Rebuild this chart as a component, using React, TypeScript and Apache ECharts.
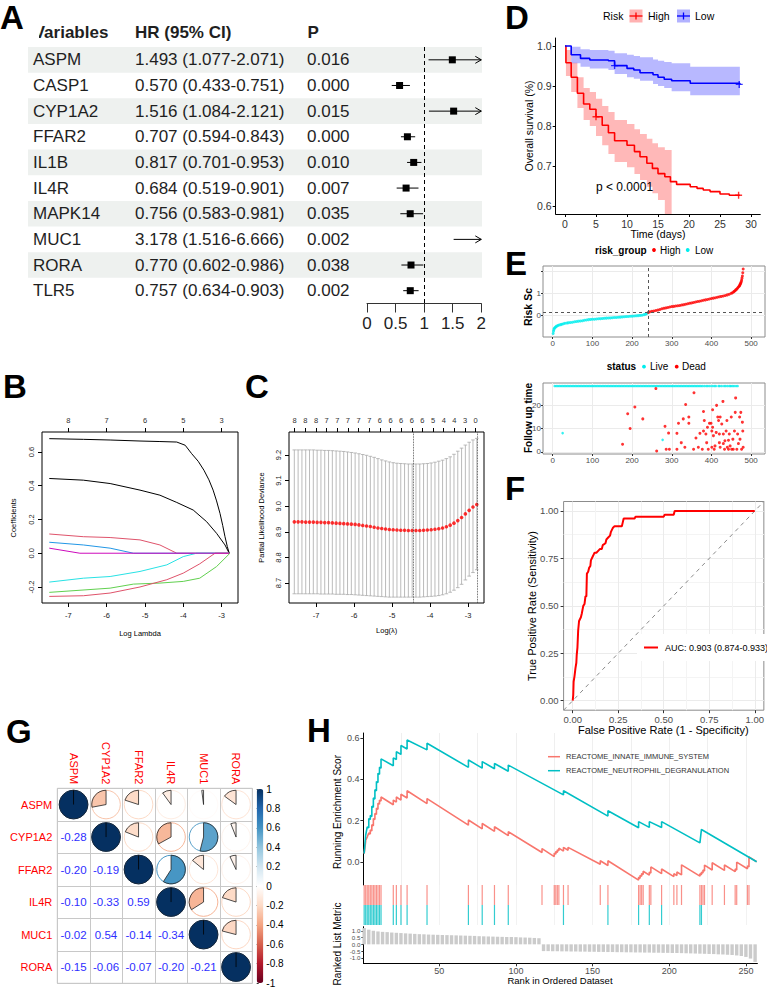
import React, { useEffect, useRef } from "react";
import * as echarts from "echarts";

const FONT = '"Liberation Sans", Arial, Helvetica, sans-serif';

// ---------------- Panel A : forest plot ----------------
const genesA = ["ASPM", "CASP1", "CYP1A2", "FFAR2", "IL1B", "IL4R", "MAPK14", "MUC1", "RORA", "TLR5"];
const hrA = [1.493, 0.57, 1.516, 0.707, 0.817, 0.684, 0.756, 3.178, 0.77, 0.757];
const loA = [1.077, 0.433, 1.084, 0.594, 0.701, 0.519, 0.583, 1.516, 0.602, 0.634];
const hiA = [2.071, 0.751, 2.121, 0.843, 0.953, 0.901, 0.981, 6.666, 0.986, 0.903];
const pA = ["0.016", "0.000", "0.015", "0.000", "0.010", "0.007", "0.035", "0.002", "0.038", "0.002"];
const headersA = ["Variables", "HR (95% CI)", "P"];

// ---------------- Panel B : LASSO coefficient paths ----------------
const ticksB = [-7, -6, -5, -4, -3];
const topCountsB = ["8", "7", "6", "5", "3"];
const pathsB = [
  [[-7.5, 0.679], [-6.61, 0.675], [-5.91, 0.671], [-5.13, 0.665], [-4.61, 0.662], [-4.17, 0.659], [-3.95, 0.64], [-3.78, 0.59], [-3.61, 0.545], [-3.46, 0.492], [-3.33, 0.435], [-3.22, 0.374], [-3.13, 0.31], [-3.04, 0.236], [-2.97, 0.165], [-2.91, 0.098], [-2.85, 0.04], [-2.8, 0]],
  [[-7.5, 0.443], [-6.61, 0.433], [-5.91, 0.413], [-5.13, 0.374], [-4.61, 0.344], [-4.17, 0.301], [-3.74, 0.256], [-3.39, 0.187], [-3.13, 0.118], [-2.91, 0.049], [-2.8, 0]],
  [[-7.5, 0.114], [-6.61, 0.098], [-5.91, 0.093], [-5.13, 0.079], [-4.61, 0.049], [-4.17, 0], [-2.8, 0]],
  [[-7.5, 0.065], [-6.61, 0.049], [-5.91, 0.03], [-5.3, 0], [-2.8, 0]],
  [[-7.5, -0.171], [-6.61, -0.148], [-5.91, -0.138], [-5.13, -0.108], [-4.43, -0.069], [-4.0, -0.02], [-3.65, 0], [-2.8, 0]],
  [[-7.5, -0.232], [-5.91, -0.207], [-5.3, -0.183], [-4.61, -0.177], [-4.0, -0.167], [-3.57, -0.148], [-3.13, -0.079], [-2.78, 0]],
  [[-7.5, -0.256], [-6.61, -0.252], [-5.91, -0.236], [-5.13, -0.2], [-4.43, -0.157], [-4.0, -0.118], [-3.57, -0.063], [-3.17, 0], [-2.8, 0]],
  [[-7.5, 0.03], [-6.7, 0], [-2.8, 0]],
];
const pathColorsB = ["#000000", "#000000", "#DF536B", "#2297E6", "#28E2E5", "#61D04F", "#DF536B", "#CD0BBC"];

// ---------------- Panel C : cross-validation ----------------
const lamC = [-7.57, -7.47, -7.37, -7.27, -7.17, -7.07, -6.97, -6.87, -6.77, -6.67, -6.57, -6.47, -6.37, -6.27, -6.17, -6.07, -5.97, -5.87, -5.77, -5.67, -5.57, -5.47, -5.37, -5.27, -5.17, -5.07, -4.97, -4.87, -4.77, -4.67, -4.57, -4.47, -4.37, -4.27, -4.17, -4.07, -3.97, -3.87, -3.77, -3.67, -3.57, -3.47, -3.37, -3.27, -3.17, -3.07, -2.97, -2.87, -2.77];
const cvmC = [8.939, 8.939, 8.939, 8.938, 8.938, 8.938, 8.937, 8.937, 8.936, 8.936, 8.935, 8.934, 8.933, 8.932, 8.931, 8.93, 8.929, 8.927, 8.925, 8.923, 8.921, 8.918, 8.915, 8.913, 8.911, 8.909, 8.908, 8.907, 8.906, 8.906, 8.905, 8.905, 8.905, 8.905, 8.906, 8.907, 8.908, 8.91, 8.912, 8.915, 8.92, 8.926, 8.934, 8.944, 8.956, 8.97, 8.984, 8.997, 9.007];
const cvUpC = [9.22, 9.22, 9.22, 9.22, 9.22, 9.22, 9.219, 9.219, 9.218, 9.218, 9.217, 9.216, 9.215, 9.214, 9.212, 9.21, 9.208, 9.205, 9.202, 9.199, 9.195, 9.191, 9.186, 9.181, 9.177, 9.173, 9.17, 9.168, 9.167, 9.166, 9.165, 9.165, 9.165, 9.165, 9.166, 9.167, 9.169, 9.172, 9.176, 9.18, 9.186, 9.193, 9.203, 9.215, 9.227, 9.239, 9.25, 9.259, 9.265];
const cvLoC = [8.658, 8.658, 8.658, 8.658, 8.658, 8.658, 8.658, 8.657, 8.657, 8.657, 8.657, 8.656, 8.656, 8.656, 8.655, 8.655, 8.654, 8.653, 8.652, 8.651, 8.65, 8.649, 8.648, 8.647, 8.646, 8.645, 8.645, 8.645, 8.645, 8.645, 8.645, 8.645, 8.645, 8.645, 8.646, 8.647, 8.648, 8.649, 8.651, 8.654, 8.658, 8.664, 8.672, 8.682, 8.695, 8.712, 8.727, 8.741, 8.752];
const topLambdaC = [-7.56, -7.28, -7.0, -6.72, -6.44, -6.16, -5.88, -5.6, -5.32, -5.04, -4.76, -4.48, -4.2, -3.92, -3.64, -3.36, -3.08, -2.8];
const topCountsC = ["8", "8", "8", "7", "7", "7", "7", "7", "6", "6", "6", "6", "6", "5", "4", "4", "3", "0"];
const lambdaMinC = -4.44;
const lambda1seC = -2.77;

// ---------------- Panel D : Kaplan-Meier ----------------
const highT = [0, 0.15, 1.0, 2.0, 3.0, 4.0, 5.0, 6.0, 7.0, 8.0, 10.0, 11.2, 12.1, 13.2, 14.1, 15.0, 16.1, 17.0, 18.0, 20.2, 21.3, 22.3, 23.4, 25.0, 26.5, 28.2];
const highS = [1.0, 0.958, 0.922, 0.882, 0.855, 0.842, 0.823, 0.802, 0.783, 0.763, 0.752, 0.736, 0.723, 0.707, 0.694, 0.681, 0.673, 0.661, 0.654, 0.648, 0.644, 0.64, 0.636, 0.63, 0.627, 0.627];
const highBandT = [0, 0.15, 1.0, 2.0, 3.0, 4.0, 5.0, 6.0, 7.0, 8.0, 10.0, 11.2, 12.1, 13.2, 14.1, 15.0, 16.1, 17.2];
const highLo = [1.0, 0.925, 0.885, 0.845, 0.815, 0.8, 0.775, 0.752, 0.73, 0.71, 0.697, 0.68, 0.665, 0.648, 0.632, 0.615, 0.58, 0.58];
const highHi = [1.0, 0.99, 0.958, 0.922, 0.895, 0.885, 0.868, 0.85, 0.835, 0.815, 0.805, 0.792, 0.78, 0.768, 0.757, 0.747, 0.74, 0.74];
const lowT = [0, 1.0, 2.5, 4.0, 7.0, 8.0, 10.0, 11.1, 12.1, 14.2, 15.0, 16.0, 17.2, 20.2, 28.2];
const lowS = [1.0, 0.978, 0.969, 0.965, 0.963, 0.951, 0.944, 0.94, 0.933, 0.928, 0.922, 0.917, 0.913, 0.907, 0.904];
const lowLo = [1.0, 0.957, 0.948, 0.944, 0.94, 0.93, 0.922, 0.918, 0.913, 0.905, 0.9, 0.895, 0.887, 0.877, 0.868];
const lowHi = [1.0, 0.998, 0.992, 0.99, 0.988, 0.982, 0.978, 0.975, 0.972, 0.966, 0.963, 0.96, 0.957, 0.948, 0.944];
const highCensor = [[5.0, 0.823], [28.0, 0.627]];
const lowCensor = [[8.0, 0.951], [28.1, 0.904]];
const daysTicks = [0, 5, 10, 15, 20, 25, 30];
const survTicks = [0.6, 0.7, 0.8, 0.9, 1.0];

// ---------------- Panel E : risk score & follow up ----------------
const lowRiskE = [[1, -0.85], [2, -0.74], [3, -0.66], [4, -0.61], [6, -0.57], [8, -0.54], [10, -0.51], [13, -0.48], [16, -0.46], [20, -0.44], [23, -0.42], [27, -0.4], [31, -0.38], [36, -0.37], [40, -0.35], [45, -0.34], [50, -0.33], [55, -0.31], [60, -0.3], [65, -0.28], [70, -0.27], [75, -0.26], [80, -0.24], [85, -0.23], [90, -0.21], [95, -0.2], [100, -0.195], [105, -0.19], [110, -0.18], [115, -0.17], [120, -0.165], [125, -0.16], [130, -0.15], [135, -0.14], [140, -0.135], [145, -0.13], [150, -0.12], [155, -0.115], [160, -0.11], [165, -0.1], [170, -0.095], [175, -0.085], [180, -0.08], [185, -0.07], [190, -0.065], [195, -0.055], [200, -0.05], [205, -0.04], [210, -0.035], [215, -0.025], [220, -0.015], [225, -0.005], [230, 0.02], [234, 0.04], [237, 0.07], [240, 0.11]];
const highRiskE = [[241, 0.12], [245, 0.15], [250, 0.17], [255, 0.19], [260, 0.21], [265, 0.23], [270, 0.26], [275, 0.29], [280, 0.31], [285, 0.33], [290, 0.35], [295, 0.37], [300, 0.39], [305, 0.4], [310, 0.42], [315, 0.43], [320, 0.44], [325, 0.46], [330, 0.48], [335, 0.5], [340, 0.52], [345, 0.54], [350, 0.56], [355, 0.58], [360, 0.6], [365, 0.62], [370, 0.64], [375, 0.66], [380, 0.68], [385, 0.7], [390, 0.72], [395, 0.74], [400, 0.76], [405, 0.78], [410, 0.8], [415, 0.82], [420, 0.84], [425, 0.86], [430, 0.88], [435, 0.9], [440, 0.93], [445, 0.96], [450, 1.0], [453, 1.03], [456, 1.07], [458, 1.1], [460, 1.13], [462, 1.17], [464, 1.2], [466, 1.25], [468, 1.29], [470, 1.33], [471, 1.36], [472, 1.4], [473, 1.44], [474, 1.48], [475, 1.53], [476, 1.6], [477, 1.7], [478, 1.8], [479, 1.95], [480, 2.12]];
const cutoffE = 0.12;
const cutRankE = 240;
const liveRanksE = [5, 9, 13, 17, 21, 25, 29, 33, 37, 41, 45, 49, 53, 57, 61, 65, 69, 73, 77, 81, 85, 89, 93, 97, 101, 105, 109, 113, 117, 121, 125, 129, 133, 137, 141, 145, 149, 153, 157, 161, 165, 169, 173, 177, 181, 185, 189, 193, 197, 201, 205, 209, 213, 217, 221, 225, 229, 233, 237, 241, 245, 249, 253, 257, 261, 265, 269, 273, 277, 281, 285, 289, 293, 297, 301, 305, 309, 313, 317, 321, 325, 329, 333, 337, 341, 345, 349, 353, 357, 361, 365, 369, 373, 377, 382, 387, 391, 396, 402, 407, 411, 418, 421, 426, 432, 436, 441, 446, 449, 453, 457, 462, 466];
const liveTimeE = 28.3;
const liveOtherE = [[25, 8.1], [277, 5.2]];
const deadE = [[176, 3.3], [189, 16.4], [195, 10.1], [207, 19.3], [227, 14.2], [260, 27.2], [262, 0.4], [283, 11], [286, 1.2], [292, 8.1], [294, 1.2], [313, 1.2], [313, 8], [317, 12.3], [324, 4], [329, 14.2], [333, 2], [335, 20.4], [343, 15], [343, 12.3], [355, 1.2], [356, 25.4], [361, 6], [367, 2], [371, 8], [377, 1.2], [380, 17.4], [380, 9], [382, 13.5], [386, 7.7], [388, 4], [390, 10.6], [392, 1.2], [395, 12.3], [399, 12.3], [401, 9], [401, 2], [403, 18.1], [403, 10.6], [405, 7], [407, 1.2], [409, 2.6], [412, 8.4], [413, 20], [416, 15], [418, 13.5], [420, 7.7], [420, 4], [422, 2], [422, 15], [426, 12], [429, 21.7], [430, 3.6], [430, 7.7], [433, 1.2], [434, 4.8], [437, 9], [439, 13.5], [440, 2], [443, 1.2], [443, 5], [445, 7.7], [447, 2.6], [450, 15], [451, 1.2], [454, 5.5], [455, 1.2], [458, 9], [460, 17], [461, 23.2], [464, 1.2], [466, 7.7], [468, 3.6], [471, 15], [472, 5.5], [474, 17], [476, 1.2], [478, 12.8], [479, 9], [480, 2]];
const rankTicksE = [0, 100, 200, 300, 400, 500];

// ---------------- Panel F : ROC ----------------
const rocF = [[0, 0], [0.003, 0.03], [0.005, 0.1], [0.01, 0.13], [0.015, 0.17], [0.02, 0.2], [0.022, 0.24], [0.026, 0.28], [0.03, 0.37], [0.035, 0.42], [0.045, 0.44], [0.05, 0.46], [0.058, 0.5], [0.065, 0.51], [0.07, 0.55], [0.075, 0.55], [0.078, 0.67], [0.085, 0.68], [0.09, 0.7], [0.097, 0.71], [0.1, 0.74], [0.11, 0.76], [0.115, 0.77], [0.12, 0.78], [0.13, 0.78], [0.14, 0.79], [0.15, 0.8], [0.16, 0.8], [0.165, 0.82], [0.18, 0.83], [0.185, 0.85], [0.195, 0.86], [0.205, 0.87], [0.21, 0.89], [0.22, 0.91], [0.23, 0.92], [0.27, 0.92], [0.275, 0.94], [0.28, 0.96], [0.34, 0.96], [0.345, 0.97], [0.5, 0.97], [0.505, 0.98], [0.555, 0.98], [0.56, 1.0], [1.0, 1.0]];
const diagF = [[-0.05, -0.05], [1.05, 1.05]];
const rateTicksF = [0, 0.25, 0.5, 0.75, 1];
const rateMinorF = [0.125, 0.375, 0.625, 0.875];
const aucLabelF = "AUC: 0.903 (0.874-0.933)";

// ---------------- Panel G : correlation ----------------
const genesG = ["ASPM", "CYP1A2", "FFAR2", "IL4R", "MUC1", "RORA"];
const corrG = [
  [1, -0.28, -0.2, -0.1, -0.02, -0.15],
  [-0.28, 1, -0.19, -0.33, 0.54, -0.06],
  [-0.2, -0.19, 1, 0.59, -0.14, -0.07],
  [-0.1, -0.33, 0.59, 1, -0.34, -0.2],
  [-0.02, 0.54, -0.14, -0.34, 1, -0.21],
  [-0.15, -0.06, -0.07, -0.2, -0.21, 1],
];
const rdbu = ["#67001F", "#B2182B", "#D6604D", "#F4A582", "#FDDBC7", "#FFFFFF", "#D1E5F0", "#92C5DE", "#4393C3", "#2166AC", "#053061"];

// ---------------- Panel H : GSEA ----------------
const redNameH = "REACTOME_INNATE_IMMUNE_SYSTEM";
const cyanNameH = "REACTOME_NEUTROPHIL_DEGRANULATION";
const cyanES = [[1, 0.04], [2, 0.13], [3, 0.17], [4, 0.165], [4, 0.21], [5, 0.205], [5, 0.225], [6, 0.22], [6, 0.27], [7, 0.265], [7, 0.31], [8, 0.305], [8, 0.35], [9, 0.345], [9, 0.39], [10, 0.385], [10, 0.43], [11, 0.425], [11, 0.46], [12, 0.455], [12, 0.5], [20, 0.467], [20, 0.505], [22, 0.497], [22, 0.535], [25, 0.522], [25, 0.565], [29, 0.548], [29, 0.592], [42, 0.544], [42, 0.576], [69, 0.459], [69, 0.495], [78, 0.455], [78, 0.487], [86, 0.452], [86, 0.478], [95, 0.44], [95, 0.47], [131, 0.325], [131, 0.345], [160, 0.222], [160, 0.248], [180, 0.165], [180, 0.195], [187, 0.167], [187, 0.195], [195, 0.167], [195, 0.195], [220, 0.092], [221, 0.157], [257, 0.0]];
const redES = [[1, 0.04], [2, 0.1], [2, 0.105], [3, 0.12], [4, 0.14], [5, 0.135], [5, 0.155], [6, 0.15], [6, 0.18], [7, 0.175], [7, 0.21], [8, 0.205], [8, 0.235], [9, 0.23], [9, 0.26], [10, 0.255], [10, 0.285], [11, 0.28], [11, 0.3], [12, 0.295], [12, 0.315], [20, 0.277], [20, 0.3], [22, 0.29], [22, 0.315], [25, 0.3], [25, 0.328], [29, 0.31], [29, 0.345], [42, 0.283], [42, 0.307], [69, 0.178], [69, 0.203], [78, 0.16], [78, 0.186], [86, 0.148], [86, 0.17], [95, 0.127], [95, 0.146], [117, 0.045], [117, 0.064], [125, 0.025], [125, 0.042], [126, 0.037], [126, 0.05], [127, 0.045], [127, 0.058], [128, 0.053], [128, 0.066], [131, 0.052], [131, 0.07], [134, 0.056], [134, 0.07], [155, -0.012], [155, 0.005], [160, -0.018], [160, 0.005], [180, -0.089], [180, -0.075], [181, -0.08], [181, -0.066], [182, -0.071], [182, -0.057], [183, -0.062], [183, -0.046], [187, -0.065], [187, -0.05], [188, -0.055], [188, -0.025], [195, -0.058], [195, -0.035], [203, -0.072], [203, -0.058], [205, -0.067], [205, -0.05], [208, -0.064], [208, -0.015], [220, -0.07], [220, -0.058], [221, -0.063], [221, -0.05], [222, -0.055], [222, -0.04], [223, -0.045], [223, -0.016], [228, -0.04], [228, -0.005], [236, -0.042], [236, -0.016], [243, -0.048], [243, -0.035], [244, -0.04], [244, -0.002], [251, -0.034], [251, -0.02], [252, -0.025], [252, 0.024], [257, 0.0]];
const redHits = [1, 2, 3, 4, 5, 6, 7, 8, 9, 10, 11, 12, 20, 22, 25, 29, 42, 69, 78, 86, 95, 117, 125, 126, 127, 128, 131, 134, 155, 160, 180, 181, 182, 183, 187, 188, 195, 203, 205, 208, 220, 221, 222, 223, 228, 236, 243, 244, 251, 252];
const cyanHits = [1, 2, 3, 4, 5, 6, 7, 8, 9, 10, 11, 12, 20, 22, 25, 29, 42, 69, 78, 86, 95, 131, 160, 180, 187, 195, 220, 221];
const metricH = [[1, 1.2], [4, 1.08], [7, 1.0], [10, 0.95], [13, 0.92], [16, 0.9], [19, 0.87], [22, 0.85], [25, 0.83], [28, 0.81], [31, 0.79], [34, 0.77], [37, 0.75], [40, 0.74], [43, 0.72], [46, 0.71], [49, 0.7], [52, 0.69], [55, 0.68], [58, 0.67], [61, 0.66], [64, 0.65], [67, 0.64], [70, 0.63], [73, 0.62], [76, 0.6], [79, 0.59], [82, 0.58], [85, 0.57], [88, 0.56], [91, 0.55], [94, 0.54], [97, 0.535], [100, 0.53], [103, 0.51], [106, 0.5], [109, 0.49], [112, 0.47], [115, 0.45], [118, -0.5], [121, -0.5], [124, -0.51], [127, -0.51], [130, -0.52], [133, -0.52], [136, -0.53], [139, -0.53], [142, -0.54], [145, -0.54], [148, -0.55], [151, -0.55], [154, -0.56], [157, -0.56], [160, -0.57], [163, -0.57], [166, -0.58], [169, -0.58], [172, -0.59], [175, -0.59], [178, -0.6], [181, -0.6], [184, -0.61], [187, -0.61], [190, -0.62], [193, -0.62], [196, -0.63], [199, -0.63], [202, -0.64], [205, -0.64], [208, -0.65], [211, -0.66], [214, -0.67], [217, -0.68], [220, -0.69], [223, -0.7], [226, -0.71], [229, -0.72], [232, -0.74], [235, -0.75], [238, -0.77], [241, -0.79], [244, -0.82], [247, -0.86], [250, -0.93], [253, -1.05], [256, -1.3]];
const esTicksH = [0, 0.2, 0.4, 0.6];
const metricTicksH = [-1, -0.5, 0, 0.5, 1];
const rankTicksH = [50, 100, 150, 200, 250];
const rankGridH = [25, 50, 75, 100, 125, 150, 175, 200, 225, 250];

// ---------------- helpers ----------------
function txt(text: string, x: number, y: number, size: number, o: any = {}) {
  const al = o.align || "left";
  return {
    type: "text", x, y, rotation: o.rot || 0, z: o.z ?? 20, silent: true,
    style: {
      text, x: 0, y: 0, font: `${o.bold ? "bold " : ""}${size}px ${FONT}`, fill: o.color || "#000",
      textAlign: al, textVerticalAlign: "middle", align: al, verticalAlign: "middle",
    },
  };
}
function tEl(text: string, x: number, y: number, size: number, o: any = {}) {
  const al = o.align || "left";
  return {
    type: "text",
    style: {
      text, x, y, font: `${o.bold ? "bold " : ""}${size}px ${FONT}`, fill: o.color || "#1f1f1f",
      textAlign: al, textVerticalAlign: "middle", align: al, verticalAlign: "middle",
    },
  };
}
function gLine(x1: number, y1: number, x2: number, y2: number, stroke: string, w = 1, z = 20) {
  return { type: "line", z, silent: true, shape: { x1, y1, x2, y2 }, style: { stroke, lineWidth: w } };
}
function gRect(x: number, y: number, width: number, height: number, fill: string, z = 20) {
  return { type: "rect", z, silent: true, shape: { x, y, width, height }, style: { fill } };
}
function gDot(cx: number, cy: number, fill: string) {
  return { type: "circle", z: 20, silent: true, shape: { cx, cy, r: 1.9 }, style: { fill } };
}
function vAxis(o: any) {
  return {
    type: "value", gridIndex: o.grid, min: o.min, max: o.max, position: o.pos,
    axisLine: { show: !!o.line, onZero: false, lineStyle: { color: o.lineColor || "#000", width: 1 } },
    axisTick: { show: (o.tickLen ?? 3) > 0, length: o.tickLen ?? 3, customValues: o.ticks, lineStyle: { color: o.tickColor || "#333" } },
    axisLabel: {
      show: o.showLabel !== false, customValues: o.labels || o.ticks, formatter: o.fmt,
      fontSize: o.fs || 9, color: o.color || "#4D4D4D", margin: o.margin ?? 4, fontFamily: FONT, rotate: o.rotate || 0,
      lineHeight: o.lh,
    },
    splitLine: { show: !!o.split, lineStyle: { color: o.splitColor || "#EBEBEB", width: 1 } },
    minorTick: { show: false }, minorSplitLine: { show: false },
  };
}
function stepPts(t: number[], v: number[]) {
  const out: number[][] = [];
  for (let i = 0; i < t.length; i++) {
    if (i > 0) out.push([t[i], v[i - 1]]);
    out.push([t[i], v[i]]);
  }
  return out;
}
const plusSymbol = "path://M4,0H6V4H10V6H6V10H4V6H0V4H4Z";

function buildOption() {
  const grid = [
    { left: 367, top: 47, width: 114.3, height: 256.5 }, // 0 A
    { left: 42, top: 432, width: 196, height: 171, show: true, borderColor: "#000", borderWidth: 1 }, // 1 B
    { left: 289, top: 432, width: 195, height: 171, show: true, borderColor: "#000", borderWidth: 1 }, // 2 C
    { left: 555.7, top: 38, width: 204.6, height: 176 }, // 3 D
    { left: 543, top: 266, width: 222, height: 71, show: true, borderColor: "#8C8C8C", borderWidth: 1 }, // 4 E1
    { left: 543, top: 383, width: 222, height: 71, show: true, borderColor: "#8C8C8C", borderWidth: 1 }, // 5 E2
    { left: 563.6, top: 501.5, width: 200.5, height: 208.7, show: true, borderColor: "#8C8C8C", borderWidth: 1 }, // 6 F
    { left: 57.3, top: 788.3, width: 195, height: 195, show: true, borderColor: "#C8C8C8", borderWidth: 1 }, // 7 G
    { left: 256.7, top: 789, width: 6.6, height: 194 }, // 8 G colorbar
    { left: 363.4, top: 733, width: 394, height: 152 }, // 9 H ES
    { left: 363.4, top: 885, width: 394, height: 40 }, // 10 H rug
    { left: 363.4, top: 926.7, width: 394, height: 36.6 }, // 11 H metric
  ];

  const xAxis: any[] = [
    { type: "value", gridIndex: 0, min: 0, max: 2, interval: 0.5, position: "bottom",
      axisLine: { show: true, onZero: false, lineStyle: { color: "#333" } },
      axisTick: { show: true, length: 9, lineStyle: { color: "#333" } },
      axisLabel: { fontSize: 17, color: "#222", margin: 11, fontFamily: FONT }, splitLine: { show: false } }, // 0
    vAxis({ grid: 1, min: -7.69, max: -2.57, ticks: ticksB, pos: "bottom", fs: 7.5, color: "#222", margin: 8.5, tickLen: 4, tickColor: "#000" }), // 1
    vAxis({ grid: 1, min: -7.69, max: -2.57, ticks: ticksB, pos: "top", fs: 7.5, color: "#333", margin: 7.5, tickLen: 4, tickColor: "#000",
      fmt: (v: number) => topCountsB[ticksB.findIndex((t) => Math.abs(t - v) < 1e-6)] ?? "" }), // 2
    vAxis({ grid: 2, min: -7.71, max: -2.58, ticks: ticksB, pos: "bottom", fs: 7.5, color: "#222", margin: 8.5, tickLen: 4, tickColor: "#000" }), // 3
    vAxis({ grid: 2, min: -7.71, max: -2.58, ticks: topLambdaC, pos: "top", fs: 7.5, color: "#333", margin: 7.5, tickLen: 4, tickColor: "#000",
      fmt: (v: number) => topCountsC[topLambdaC.findIndex((t) => Math.abs(t - v) < 1e-6)] ?? "" }), // 4
    vAxis({ grid: 3, min: -1.5, max: 31.5, ticks: daysTicks, pos: "bottom", fs: 10.5, color: "#333", margin: 4, tickLen: 3, line: true, tickColor: "#000" }), // 5
    vAxis({ grid: 4, min: -24.5, max: 535, ticks: rankTicksE, pos: "bottom", fs: 8, margin: 2, tickLen: 2, split: true }), // 6
    vAxis({ grid: 5, min: -24.5, max: 535, ticks: rankTicksE, pos: "bottom", fs: 8, margin: 2, tickLen: 2, split: true }), // 7
    vAxis({ grid: 6, min: -0.05, max: 1.05, ticks: rateTicksF, pos: "bottom", fs: 9.5, margin: 4, tickLen: 3, split: true, fmt: (v: number) => v.toFixed(2) }), // 8
    vAxis({ grid: 6, min: -0.05, max: 1.05, ticks: rateMinorF, pos: "top", showLabel: false, tickLen: 0, split: true, splitColor: "#F4F4F4" }), // 9
    { type: "category", gridIndex: 7, data: genesG, position: "top", axisLine: { show: false }, axisTick: { show: false },
      axisLabel: { rotate: 90, color: "#FF0000", fontSize: 11, margin: 4, fontFamily: FONT, interval: 0 },
      splitLine: { show: true, interval: 0, lineStyle: { color: "#C8C8C8" } } }, // 10
    { type: "value", gridIndex: 8, min: 0, max: 1, show: false }, // 11
    vAxis({ grid: 9, min: 0.5, max: 257.5, ticks: rankGridH, showLabel: false, tickLen: 0, split: true, splitColor: "#EFEFEF" }), // 12
    vAxis({ grid: 10, min: 0.5, max: 257.5, ticks: rankGridH, showLabel: false, tickLen: 0, split: true, splitColor: "#F2F2F2" }), // 13
    vAxis({ grid: 11, min: 0.5, max: 257.5, ticks: rankTicksH, pos: "bottom", fs: 9, margin: 3, tickLen: 3, line: true }), // 14
  ];

  const yAxis: any[] = [
    { type: "category", gridIndex: 0, data: genesA, inverse: true, show: false }, // 0
    vAxis({ grid: 1, min: -0.295, max: 0.7185, ticks: [-0.2, 0, 0.2, 0.4, 0.6], pos: "left", fs: 7.5, color: "#222", margin: 7, tickLen: 4, tickColor: "#000", rotate: 90, fmt: (v: number) => v.toFixed(1) }), // 1
    vAxis({ grid: 2, min: 8.622, max: 9.29, ticks: [8.7, 8.8, 8.9, 9.0, 9.1, 9.2], pos: "left", fs: 7.5, color: "#222", margin: 7, tickLen: 4, tickColor: "#000", rotate: 90, fmt: (v: number) => v.toFixed(1) }), // 2
    vAxis({ grid: 3, min: 0.58, max: 1.02, ticks: survTicks, pos: "left", fs: 10.5, color: "#333", margin: 4, tickLen: 3, line: true, tickColor: "#000", fmt: (v: number) => v.toFixed(1) }), // 3
    vAxis({ grid: 4, min: -1.01, max: 2.26, ticks: [0, 1, 2], labels: [0, 1], pos: "left", fs: 8, margin: 2, tickLen: 2, split: true }), // 4
    vAxis({ grid: 5, min: -0.87, max: 29.6, ticks: [0, 10, 20], pos: "left", fs: 8, margin: 2, tickLen: 2, split: true }), // 5
    vAxis({ grid: 6, min: -0.05, max: 1.05, ticks: rateTicksF, pos: "left", fs: 9.5, margin: 5, tickLen: 3, split: true, fmt: (v: number) => v.toFixed(2) }), // 6
    vAxis({ grid: 6, min: -0.05, max: 1.05, ticks: rateMinorF, pos: "right", showLabel: false, tickLen: 0, split: true, splitColor: "#F4F4F4" }), // 7
    { type: "category", gridIndex: 7, data: genesG, inverse: true, axisLine: { show: false }, axisTick: { show: false },
      axisLabel: { color: "#FF0000", fontSize: 11, margin: 5, fontFamily: FONT, interval: 0 },
      splitLine: { show: true, interval: 0, lineStyle: { color: "#C8C8C8" } } }, // 8
    { type: "value", gridIndex: 8, min: -1, max: 1, interval: 0.2, position: "right",
      axisLine: { show: false }, axisTick: { show: true, length: 2, lineStyle: { color: "#333" } },
      axisLabel: { fontSize: 10, color: "#000", margin: 3, fontFamily: FONT, formatter: (v: number) => String(+v.toFixed(1)) },
      splitLine: { show: false } }, // 9
    vAxis({ grid: 9, min: -0.113, max: 0.626, ticks: esTicksH, pos: "left", fs: 9, margin: 4, tickLen: 3, line: true, fmt: (v: number) => v.toFixed(1) }), // 10
    { type: "value", gridIndex: 10, min: 0, max: 2, show: false }, // 11
    vAxis({ grid: 11, min: -1.4, max: 1.3, ticks: metricTicksH, pos: "left", fs: 6.2, lh: 6, margin: 3, tickLen: 2, line: true, fmt: (v: number) => v.toFixed(1) }), // 12
  ];

  const series: any[] = [];

  // A: row bands + table text
  series.push({
    type: "custom", xAxisIndex: 0, yAxisIndex: 0, z: 1, clip: false, silent: true,
    data: genesA.map((g, i) => [0, i]),
    renderItem: (params: any, api: any) => {
      const i = api.value(1);
      const yc = api.coord([0, i])[1];
      const h = api.size([0, 1])[1];
      const kids: any[] = [];
      if (i % 2 === 0) kids.push({ type: "rect", shape: { x: 28, y: yc - h / 2, width: 454, height: h }, style: { fill: "#EEF1EF" } });
      kids.push(tEl(genesA[i], 33, yc, 17));
      kids.push(tEl(`${hrA[i].toFixed(3)} (${loA[i].toFixed(3)}-${hiA[i].toFixed(3)})`, 135, yc, 17));
      kids.push(tEl(pA[i], 307, yc, 17));
      return { type: "group", children: kids };
    },
  });
  // A: CI lines, squares, arrows
  series.push({
    type: "custom", xAxisIndex: 0, yAxisIndex: 0, z: 3, clip: false, silent: true,
    data: genesA.map((g, i) => [hrA[i], i, loA[i], hiA[i]]),
    renderItem: (params: any, api: any) => {
      const hr = api.value(0), i = api.value(1), lo = api.value(2), hi = api.value(3);
      const yc = api.coord([0, i])[1];
      const xa = api.coord([Math.max(lo, 0), i])[0];
      const xb = api.coord([Math.min(hi, 2), i])[0];
      const kids: any[] = [{ type: "line", shape: { x1: xa, y1: yc, x2: xb, y2: yc }, style: { stroke: "#000", lineWidth: 1 } }];
      if (hi > 2) kids.push({ type: "polyline", shape: { points: [[xb - 6, yc - 3.5], [xb, yc], [xb - 6, yc + 3.5]] }, style: { stroke: "#000", lineWidth: 1, fill: "none" } });
      if (hr <= 2) {
        const xh = api.coord([hr, i])[0];
        kids.push({ type: "rect", shape: { x: xh - 3.5, y: yc - 3.5, width: 7, height: 7 }, style: { fill: "#000" } });
      }
      return { type: "group", children: kids };
    },
    markLine: { silent: true, symbol: "none", label: { show: false }, lineStyle: { type: [4, 3], color: "#000", width: 1 }, data: [{ xAxis: 1 }] },
  });

  // B: coefficient paths
  pathsB.forEach((p, k) => {
    series.push({ type: "line", xAxisIndex: 1, yAxisIndex: 1, data: p, showSymbol: false, symbol: "none", silent: true,
      lineStyle: { color: pathColorsB[k], width: 1 }, z: 2 });
  });

  // C: error bars + points
  series.push({
    type: "custom", xAxisIndex: 3, yAxisIndex: 2, silent: true, z: 2,
    data: lamC.map((l, i) => [l, cvLoC[i], cvUpC[i]]),
    renderItem: (params: any, api: any) => {
      const x = api.value(0), lo = api.value(1), hi = api.value(2);
      const a = api.coord([x, hi]), b = api.coord([x, lo]);
      const st = { stroke: "#AAAAAA", lineWidth: 0.8 };
      return { type: "group", children: [
        { type: "line", shape: { x1: a[0], y1: a[1], x2: b[0], y2: b[1] }, style: st },
        { type: "line", shape: { x1: a[0] - 1.8, y1: a[1], x2: a[0] + 1.8, y2: a[1] }, style: st },
        { type: "line", shape: { x1: b[0] - 1.8, y1: b[1], x2: b[0] + 1.8, y2: b[1] }, style: st },
      ] };
    },
  });
  series.push({
    type: "scatter", xAxisIndex: 3, yAxisIndex: 2, data: lamC.map((l, i) => [l, cvmC[i]]), symbolSize: 3.6, silent: true, z: 3,
    itemStyle: { color: "#FF0000" },
    markLine: { silent: true, symbol: "none", label: { show: false }, lineStyle: { type: "dotted", color: "#333", width: 0.8 },
      data: [{ xAxis: lambdaMinC }, { xAxis: lambda1seC }] },
  });

  // D: KM bands
  const band = (t: number[], lo: number[], hi: number[], fill: string) => ({
    type: "custom", xAxisIndex: 5, yAxisIndex: 3, clip: true, silent: true, z: 1, data: [[0, 1]],
    renderItem: (params: any, api: any) => {
      const pts = stepPts(t, hi).concat(stepPts(t, lo).reverse());
      return { type: "polygon", shape: { points: pts.map((p) => api.coord(p)) }, style: { fill } };
    },
  });
  series.push(band(highBandT, highLo, highHi, "rgba(255,0,0,0.28)"));
  series.push(band(lowT, lowLo, lowHi, "rgba(0,0,255,0.28)"));
  series.push({ type: "line", xAxisIndex: 5, yAxisIndex: 3, step: "end", data: highT.map((t, i) => [t, highS[i]]), symbol: "none", silent: true,
    lineStyle: { color: "#FF0000", width: 1.6 }, z: 3 });
  series.push({ type: "line", xAxisIndex: 5, yAxisIndex: 3, step: "end", data: lowT.map((t, i) => [t, lowS[i]]), symbol: "none", silent: true,
    lineStyle: { color: "#0000FF", width: 1.6 }, z: 3 });
  series.push({ type: "scatter", xAxisIndex: 5, yAxisIndex: 3, data: highCensor, symbol: plusSymbol, symbolSize: 7, silent: true, itemStyle: { color: "#FF0000" }, z: 4 });
  series.push({ type: "scatter", xAxisIndex: 5, yAxisIndex: 3, data: lowCensor, symbol: plusSymbol, symbolSize: 7, silent: true, itemStyle: { color: "#0000FF" }, z: 4 });

  // E1: risk score
  series.push({ type: "scatter", xAxisIndex: 6, yAxisIndex: 4, data: lowRiskE, symbolSize: 3, silent: true, itemStyle: { color: "#00EEEE" }, z: 3,
    markLine: { silent: true, symbol: "none", label: { show: false }, lineStyle: { type: [3, 3], color: "#555", width: 1 },
      data: [{ yAxis: cutoffE }, { xAxis: cutRankE }] } });
  series.push({ type: "scatter", xAxisIndex: 6, yAxisIndex: 4, data: highRiskE, symbolSize: 3, silent: true, itemStyle: { color: "#FF0000" }, z: 3 });
  // E2: follow up
  series.push({ type: "scatter", xAxisIndex: 7, yAxisIndex: 5, data: liveRanksE.map((r) => [r, liveTimeE]).concat(liveOtherE), symbolSize: 2.6, silent: true,
    itemStyle: { color: "#00EEEE" }, z: 3 });
  series.push({ type: "scatter", xAxisIndex: 7, yAxisIndex: 5, data: deadE, symbolSize: 3, silent: true, itemStyle: { color: "#FF0000" }, z: 4 });

  // F: ROC
  series.push({ type: "line", xAxisIndex: 8, yAxisIndex: 6, data: diagF, symbol: "none", silent: true, lineStyle: { color: "#8A8A8A", width: 1, type: [4, 4] }, z: 2 });
  series.push({ type: "line", xAxisIndex: 8, yAxisIndex: 6, data: rocF, symbol: "none", silent: true, lineStyle: { color: "#FF0000", width: 2 }, z: 3 });

  // G: correlation plot
  const corrIndex = series.length;
  const corrData: number[][] = [];
  for (let i = 0; i < genesG.length; i++) for (let j = 0; j < genesG.length; j++) corrData.push([j, i, corrG[i][j]]);
  series.push({
    type: "custom", xAxisIndex: 10, yAxisIndex: 8, data: corrData, silent: true, z: 3,
    renderItem: (params: any, api: any) => {
      const col = api.value(0), row = api.value(1), r = api.value(2);
      const c = api.coord([col, row]);
      const s = api.size([1, 1]);
      const color = api.visual("color");
      if (col < row) {
        return { type: "text", style: { text: r.toFixed(2), x: c[0], y: c[1], textAlign: "center", textVerticalAlign: "middle", align: "center", verticalAlign: "middle", fill: "#2E2EFF", font: `11.5px ${FONT}` } };
      }
      const R = s[0] * 0.44;
      const top = -Math.PI / 2;
      const kids: any[] = [{ type: "circle", shape: { cx: c[0], cy: c[1], r: R }, style: { fill: "#fff", stroke: color, lineWidth: 1 } }];
      if (Math.abs(r) >= 0.999) {
        kids.push({ type: "circle", shape: { cx: c[0], cy: c[1], r: R }, style: { fill: color, stroke: "#222", lineWidth: 0.6 } });
        kids.push({ type: "line", shape: { x1: c[0], y1: c[1], x2: c[0], y2: c[1] - R }, style: { stroke: "#000", lineWidth: 0.8 } });
      } else {
        const a = 2 * Math.PI * Math.abs(r);
        const st = r >= 0 ? top : top - a;
        const en = r >= 0 ? top + a : top;
        kids.push({ type: "sector", shape: { cx: c[0], cy: c[1], r0: 0, r: R, startAngle: st, endAngle: en, clockwise: true }, style: { fill: color, stroke: "#222", lineWidth: 0.8 } });
      }
      return { type: "group", children: kids };
    },
  });

  // H: enrichment curves
  series.push({ type: "line", xAxisIndex: 12, yAxisIndex: 10, data: redES, symbol: "none", silent: true, lineStyle: { color: "#F8766D", width: 1.6 }, z: 3 });
  series.push({ type: "line", xAxisIndex: 12, yAxisIndex: 10, data: cyanES, symbol: "none", silent: true, lineStyle: { color: "#00BFC4", width: 1.6 }, z: 3 });
  series.push({
    type: "custom", xAxisIndex: 13, yAxisIndex: 11, silent: true, z: 3,
    data: redHits.map((r) => [r, 1]).concat(cyanHits.map((r) => [r, 0])),
    renderItem: (params: any, api: any) => {
      const rank = api.value(0), set = api.value(1);
      const p0 = api.coord([rank, set]), p1 = api.coord([rank, set + 1]);
      return { type: "rect", shape: { x: p0[0] - 0.6, y: p1[1], width: 1.2, height: p0[1] - p1[1] },
        style: { fill: set === 1 ? "#F8766D" : "#00BFC4", opacity: 0.8 } };
    },
  });
  series.push({ type: "bar", xAxisIndex: 14, yAxisIndex: 12, data: metricH, barWidth: 3.4, silent: true, itemStyle: { color: "#CBCBCB" }, z: 2 });

  const up = Math.PI / 2;
  const elements: any[] = [
    // panel letters
    txt("A", 0, 17.5, 33, { bold: true, z: 30 }),
    txt("B", 3, 386, 33, { bold: true }),
    txt("C", 245, 386, 33, { bold: true }),
    txt("D", 505, 17.5, 33, { bold: true }),
    txt("E", 505, 263, 33, { bold: true }),
    txt("F", 505, 488, 33, { bold: true }),
    txt("G", 6, 731, 33, { bold: true }),
    txt("H", 307, 730, 33, { bold: true }),
    // A headers
    txt(headersA[0], 33.7, 32, 17, { bold: true, z: 18, color: "#1f1f1f" }),
    gRect(0, 24, 39, 20, "#fff", 19),
    txt(headersA[1], 135, 32, 17, { bold: true, color: "#1f1f1f" }),
    txt(headersA[2], 307.5, 32, 17, { bold: true, color: "#1f1f1f" }),
    // B / C titles
    txt("Coefficients", 13, 518, 7.5, { rot: up, align: "center" }),
    txt("Log Lambda", 140, 633, 7.5, { align: "center" }),
    txt("Partial Likelihood Deviance", 261, 517.5, 7.5, { rot: up, align: "center" }),
    txt("Log(\u03bb)", 386.7, 630, 7.5, { align: "center" }),
    // D legend and titles
    txt("Risk", 603, 16, 10.5),
    gRect(629.5, 9.5, 13, 13, "rgba(255,0,0,0.3)"),
    gLine(629.5, 16, 642.5, 16, "#FF0000", 1.3),
    gLine(636, 12.5, 636, 19.5, "#FF0000", 1.3),
    txt("High", 648, 16, 10.5),
    gRect(677, 9.5, 13, 13, "rgba(0,0,255,0.3)"),
    gLine(677, 16, 690, 16, "#0000FF", 1.3),
    gLine(683.5, 12.5, 683.5, 19.5, "#0000FF", 1.3),
    txt("Low", 695, 16, 10.5),
    txt("Overall survival (%)", 529, 126, 10.5, { rot: up, align: "center" }),
    txt("Time (days)", 658, 233.7, 10.5, { align: "center" }),
    txt("p < 0.0001", 596, 187, 12),
    // E legends and titles
    txt("risk_group", 595, 250, 10, { bold: true }),
    gDot(654, 250, "#FF0000"),
    txt("High", 660, 250, 10),
    gDot(687.7, 250, "#00EEEE"),
    txt("Low", 695, 250, 10),
    txt("Risk Sc", 528, 307, 10.5, { bold: true, rot: up, align: "center" }),
    txt("status", 606.7, 366.7, 10, { bold: true }),
    gDot(644, 366.7, "#00EEEE"),
    txt("Live", 650, 366.7, 10),
    gDot(676.7, 366.7, "#FF0000"),
    txt("Dead", 682, 366.7, 10),
    txt("Follow up time", 528, 418, 10, { bold: true, rot: up, align: "center" }),
    // F titles and legend
    txt("True Positive Rate (Sensitivity)", 531.7, 606, 11, { rot: up, align: "center" }),
    txt("False Positive Rate (1 - Specificity)", 663.3, 730, 11, { align: "center" }),
    gRect(637, 634, 131, 27, "#fff", 15),
    gLine(644, 647.5, 658, 647.5, "#FF0000", 2),
    txt(aucLabelF, 665, 647.5, 9),
    // H titles and legend
    txt("Running Enrichment Scor", 337, 812, 10, { rot: up, align: "center" }),
    txt("Ranked List Metric", 337.3, 944, 10, { rot: up, align: "center" }),
    txt("Rank in Ordered Dataset", 560, 980.7, 9.5, { align: "center" }),
    gLine(548, 756.7, 560, 756.7, "#F8766D", 1.5),
    txt(redNameH, 566, 756.7, 7.5, { color: "#333" }),
    gLine(548, 770.7, 560, 770.7, "#00BFC4", 1.5),
    txt(cyanNameH, 566, 770.7, 7.5, { color: "#333" }),
  ];

  return {
    animation: false,
    backgroundColor: "#fff",
    textStyle: { fontFamily: FONT },
    grid,
    xAxis,
    yAxis,
    series,
    visualMap: {
      type: "continuous", seriesIndex: corrIndex, dimension: 2, min: -1, max: 1,
      inRange: { color: rdbu }, left: 256.7, top: 789, itemWidth: 6.6, itemHeight: 194,
      calculable: false, padding: 0, orient: "vertical", hoverLink: false, realtime: false,
    },
    graphic: { elements },
  };
}

export default function App() {
  const ref = useRef<HTMLDivElement>(null);
  useEffect(() => {
    if (!ref.current) return;
    const chart = echarts.init(ref.current, undefined, { renderer: "svg" });
    chart.setOption(buildOption() as any);
    return () => chart.dispose();
  }, []);
  return <div ref={ref} style={{ position: "absolute", left: 0, top: 0, width: 767, height: 988, background: "#fff" }} />;
}
